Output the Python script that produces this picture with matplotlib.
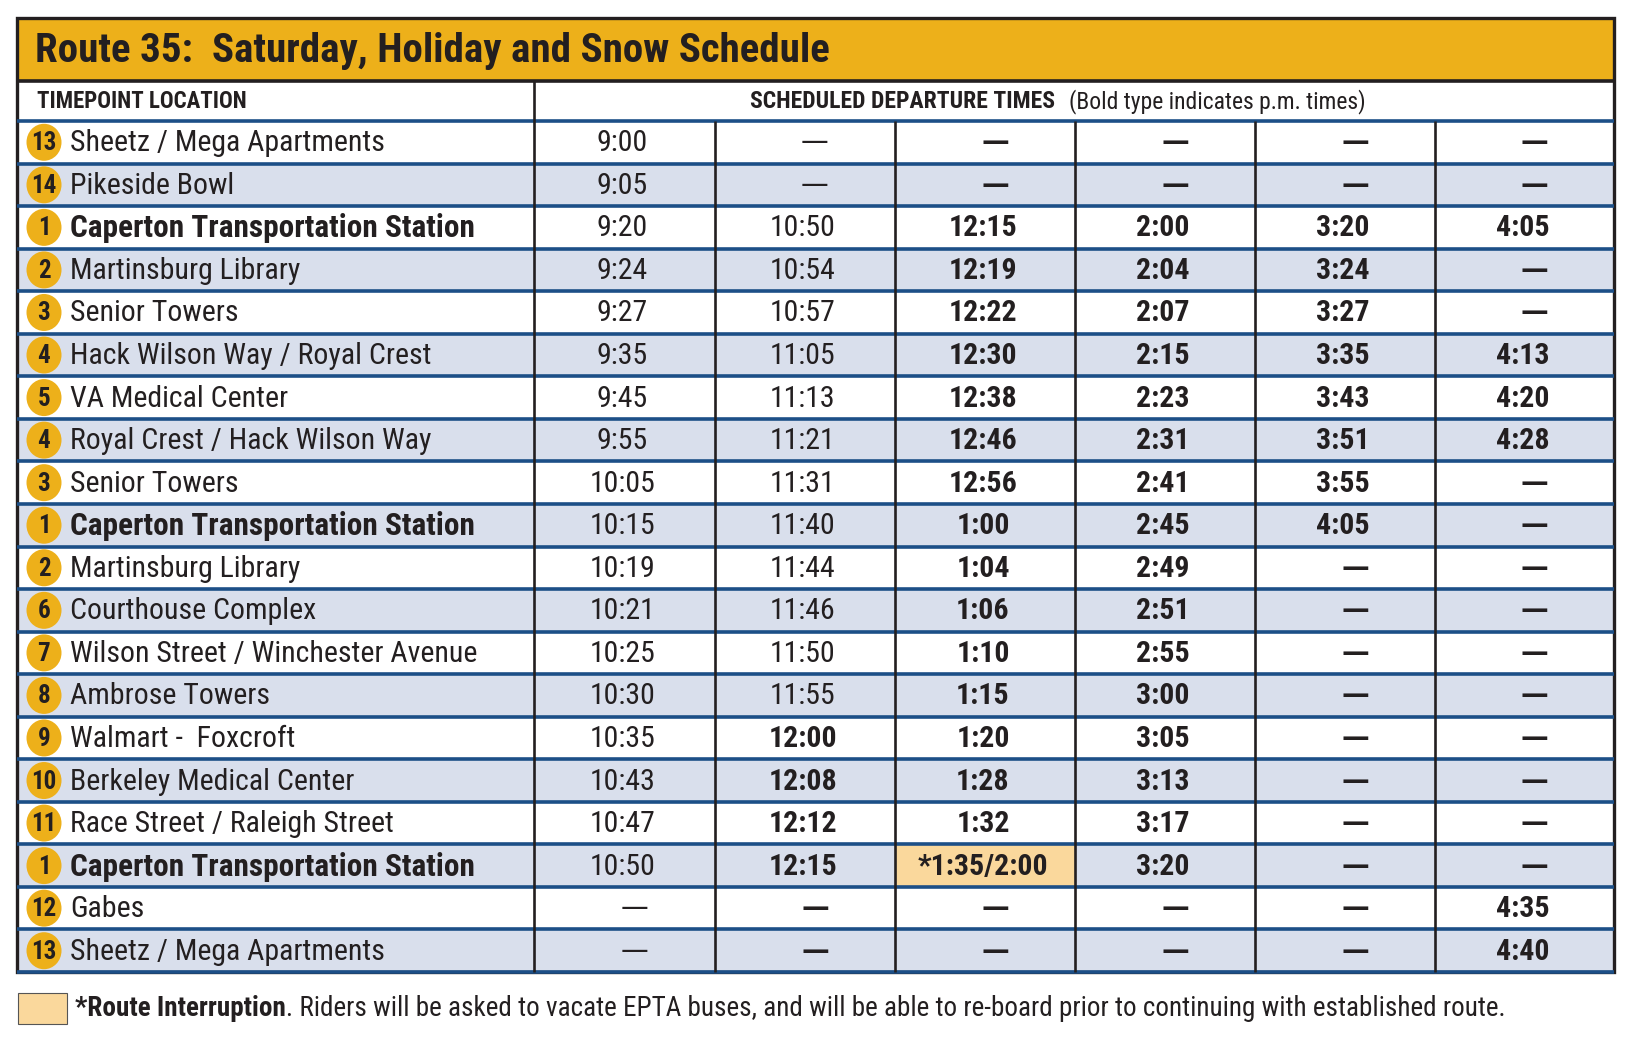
import matplotlib
matplotlib.use('Agg')
import matplotlib.pyplot as plt
import matplotlib.font_manager as fm
from matplotlib.patches import Rectangle, Ellipse

# ---- data ----
title = 'Route 35:  Saturday, Holiday and Snow Schedule'
loc_header = 'TIMEPOINT LOCATION'
times_header = 'SCHEDULED DEPARTURE TIMES'
times_note = '(Bold type indicates p.m. times)'

stop_nums = ['13', '14', '1', '2', '3', '4', '5', '4', '3', '1',
             '2', '6', '7', '8', '9', '10', '11', '1', '12', '13']
stop_names = ['Sheetz / Mega Apartments', 'Pikeside Bowl', 'Caperton Transportation Station',
              'Martinsburg Library', 'Senior Towers', 'Hack Wilson Way / Royal Crest',
              'VA Medical Center', 'Royal Crest / Hack Wilson Way', 'Senior Towers',
              'Caperton Transportation Station', 'Martinsburg Library', 'Courthouse Complex',
              'Wilson Street / Winchester Avenue', 'Ambrose Towers', 'Walmart -  Foxcroft',
              'Berkeley Medical Center', 'Race Street / Raleigh Street',
              'Caperton Transportation Station', 'Gabes', 'Sheetz / Mega Apartments']
bold_stops = [2, 9, 17]

D = '\u2014'
trip1 = ['9:00', '9:05', '9:20', '9:24', '9:27', '9:35', '9:45', '9:55', '10:05', '10:15',
         '10:19', '10:21', '10:25', '10:30', '10:35', '10:43', '10:47', '10:50', D, D]
trip2 = [D, D, '10:50', '10:54', '10:57', '11:05', '11:13', '11:21', '11:31', '11:40',
         '11:44', '11:46', '11:50', '11:55', '12:00', '12:08', '12:12', '12:15', D, D]
trip3 = [D, D, '12:15', '12:19', '12:22', '12:30', '12:38', '12:46', '12:56', '1:00',
         '1:04', '1:06', '1:10', '1:15', '1:20', '1:28', '1:32', '*1:35/2:00', D, D]
trip4 = [D, D, '2:00', '2:04', '2:07', '2:15', '2:23', '2:31', '2:41', '2:45',
         '2:49', '2:51', '2:55', '3:00', '3:05', '3:13', '3:17', '3:20', D, D]
trip5 = [D, D, '3:20', '3:24', '3:27', '3:35', '3:43', '3:51', '3:55', '4:05',
         D, D, D, D, D, D, D, D, D, D]
trip6 = [D, D, '4:05', D, D, '4:13', '4:20', '4:28', D, D,
         D, D, D, D, D, D, D, D, '4:35', '4:40']
trips = [trip1, trip2, trip3, trip4, trip5, trip6]
pm_start = [20, 14, 0, 0, 0, 0]   # first row shown in bold (p.m.) per trip
interruption = (17, 2)            # (row, trip) of highlighted cell

foot_bold = '*Route Interruption'
foot_text = '. Riders will be asked to vacate EPTA buses, and will be able to re-board prior to continuing with established route.'

# ---- style ----
gold = '#EDB01A'
blue = '#1C4F87'
dark = '#231F20'
shade = '#D9DFEC'
peach = '#FAD89C'

names = {f.name for f in fm.fontManager.ttflist}
fam = 'DejaVu Sans'
stretch = 'normal'
for n in ['Roboto Condensed', 'Liberation Sans Narrow', 'DejaVu Sans Condensed', 'Open Sans Condensed']:
    if n in names:
        fam = n
        break
else:
    if any(f.name == 'DejaVu Sans' and f.stretch == 'condensed' for f in fm.fontManager.ttflist):
        stretch = 'condensed'

def fp(size, weight='normal'):
    return fm.FontProperties(family=fam, size=size, weight=weight, stretch=stretch)

def dash_fp(size, weight='normal'):
    return fm.FontProperties(family='DejaVu Sans', size=size, weight=weight)

W, H = 1634, 1039
fig = plt.figure(figsize=(W / 100, H / 100), dpi=100)
ax = fig.add_axes([0, 0, 1, 1])
ax.set_xlim(0, W)
ax.set_ylim(H, 0)
ax.axis('off')
renderer = fig.canvas.get_renderer()

def text_after(t, gap, s, prop):
    # place s directly after text t (axes are 1 px per unit in x)
    bb = t.get_window_extent(renderer)
    x, y = t.get_position()
    return ax.text(bb.x1 + gap, y, s, fontproperties=prop, color=dark, va='center', ha='left')

left, right = 17, 1614
top, title_bot, head_bot, bottom = 18, 81, 121, 972
col_x = [534, 715, 895, 1075, 1255, 1435, right]
nrows = len(stop_names)
rh = (bottom - head_bot) / nrows

# title bar
ax.add_patch(Rectangle((left, top), right - left, title_bot - top, color=gold, lw=0))
ax.text(35, (top + title_bot) / 2 + 2, title, fontproperties=fp(29.5, 'bold'),
        color=dark, va='center', ha='left')

# rows
for i in range(nrows):
    y0 = head_bot + i * rh
    if i % 2 == 1:
        ax.add_patch(Rectangle((left, y0), right - left, rh, color=shade, lw=0))
r, c = interruption
ax.add_patch(Rectangle((col_x[c], head_bot + r * rh), col_x[c + 1] - col_x[c], rh, color=peach, lw=0))

# lines
for i in range(nrows + 1):
    ax.hlines(head_bot + i * rh, left, right, color=blue, lw=2.6)
ax.hlines(title_bot, left, right, color=dark, lw=2.6)
ax.vlines(col_x[0], title_bot, bottom, color=dark, lw=1.9)
for x in col_x[1:-1]:
    ax.vlines(x, head_bot, bottom, color=dark, lw=1.9)
ax.add_patch(Rectangle((left, top), right - left, bottom - top, fill=False, ec=dark, lw=2.4))

# header row
hy = (title_bot + head_bot) / 2 + 1
ax.text(37, hy, loc_header, fontproperties=fp(16.5, 'bold'), color=dark, va='center')
th = ax.text(750, hy, times_header, fontproperties=fp(17, 'bold'), color=dark, va='center', ha='left')
text_after(th, 14, times_note, fp(17))

# stop names and badges
for i in range(nrows):
    yc = head_bot + (i + 0.5) * rh
    ax.add_patch(Ellipse((44, yc), 35, 37, color=gold, lw=0))
    ax.text(44, yc + 1, stop_nums[i], fontproperties=fp(18, 'bold'), color=dark,
            va='center', ha='center')
    if i in bold_stops:
        ax.text(70, yc + 1, stop_names[i], fontproperties=fp(22.5, 'bold'), color=dark,
                va='center', ha='left')
    else:
        ax.text(70, yc + 1, stop_names[i], fontproperties=fp(21.5), color=dark,
                va='center', ha='left')

# times
for j, trip in enumerate(trips):
    xc = (col_x[j] + col_x[j + 1]) / 2
    for i, t in enumerate(trip):
        yc = head_bot + (i + 0.5) * rh
        w = 'bold' if i >= pm_start[j] else 'normal'
        if t == D:
            ax.text(xc + 10, yc, t, fontproperties=dash_fp(20, w), color=dark, va='center', ha='center')
        else:
            ax.text(xc - 2, yc + 1, t, fontproperties=fp(21.5, w), color=dark, va='center', ha='center')

# footnote
fy = 1008
ax.add_patch(Rectangle((18, 993), 49, 31, facecolor=peach, edgecolor='#555555', lw=0.8))
fb = ax.text(75, fy, foot_bold, fontproperties=fp(19.5, 'bold'), color=dark, va='center', ha='left')
text_after(fb, 0, foot_text, fp(19.5))

fig.savefig('out.png', dpi=100)
